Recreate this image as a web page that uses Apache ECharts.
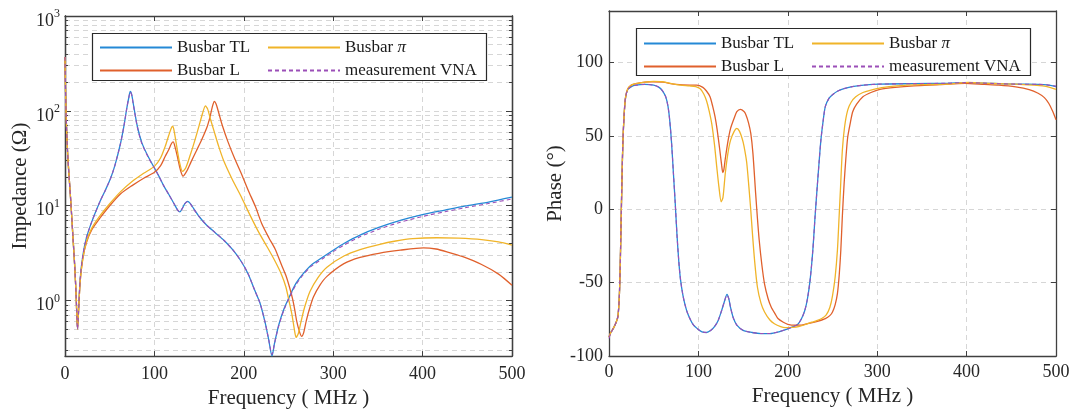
<!DOCTYPE html>
<html>
<head>
<meta charset="utf-8">
<script src="https://cdn.jsdelivr.net/npm/echarts@6/dist/echarts.min.js"></script>
<style>
html,body{margin:0;padding:0;background:#fff;}
#chart{width:1073px;height:414px;}
</style>
</head>
<body>
<div id="chart"></div>
<script>
// ---------- data (frequency MHz, value) ----------
const seriesNames = ['Busbar TL', 'Busbar L', 'Busbar π', 'measurement VNA'];
const freqTicks = [0, 100, 200, 300, 400, 500];
const impDecades = [1, 10, 100, 1000];
const phaseTicks = [-100, -50, 0, 50, 100];

// Impedance magnitude (Ohm)
const zTL = [[0,370],[1,110],[3,35],[6.5,11],[9,4.5],[11,2.2],[12.5,1.1],[14,0.5],[15.5,0.9],[17,1.7],[20,3.0],[24,4.6],[30,6.8],[39,11],[45,14.5],[51,19.5],[56,27],[62,45],[66,70],[69,105],[71.5,140],[73,160],[74.5,150],[77,110],[81,68],[86,46],[93,33],[100,25],[105,20.5],[110,16.5],[116,13.2],[122,10.5],[126,9.0],[128.5,8.6],[131,9.3],[134,10.5],[137,11.1],[140,10.6],[144,9.3],[150,7.7],[158,6.3],[168,5.2],[178,4.3],[188,3.4],[197,2.6],[205,1.9],[212,1.3],[218,0.95],[224,0.58],[228,0.38],[231.5,0.26],[234.5,0.36],[239,0.55],[245,0.82],[251,1.1],[258,1.5],[266,1.9],[275,2.35],[289,2.9],[300,3.4],[312,4.0],[330,4.9],[351,5.9],[375,7.0],[401,8.1],[425,9.0],[447,9.9],[475,11.0],[500,12.3]];
const zL = [[0,370],[1,110],[3,35],[6.5,11],[9,4.5],[11,2.2],[12.5,1.1],[14,0.5],[15.5,0.9],[17,1.6],[20,2.8],[24,4.1],[30,5.6],[39,7.4],[50,10],[62,13.3],[75,16.3],[88,19.5],[100,22.5],[107,26.5],[112,33],[116,39],[119,45],[121,47],[123,42],[126,32],[129,24],[132,20.5],[136,23],[141,29],[147,38],[153,50],[158.5,66],[162,85],[165,112],[167,126],[169,118],[172,95],[176,70],[182,48],[190,31],[198,21],[205,14.5],[213,9.8],[220,6.5],[228,4.6],[235,3.5],[242,2.4],[247,1.85],[251,1.4],[254.5,1.05],[257,0.8],[259,0.62],[262,0.48],[264.6,0.42],[267,0.46],[270,0.62],[274,0.85],[278,1.1],[285,1.45],[293,1.8],[312,2.45],[330,2.85],[351,3.15],[375,3.4],[401,3.6],[415,3.5],[428,3.25],[445,2.9],[466,2.4],[485,1.9],[500,1.45]];
const zPi = [[0,370],[1,110],[3,35],[6.5,11],[9,4.5],[11,2.2],[12.5,1.1],[14,0.5],[15.5,0.9],[17,1.6],[20,2.8],[24,4.2],[30,5.8],[39,7.8],[50,10.5],[62,14],[75,18],[88,22],[100,26],[107,32],[112,42],[116,55],[119,66],[120.5,69],[122,62],[125,42],[128,29],[131.5,23],[135,25],[140,34],[145,48],[150,70],[154,95],[157,113],[159.5,105],[163,80],[167,60],[172,42],[178,29],[187,19],[197,12.5],[206,8.3],[216,5.4],[226,3.7],[235,2.6],[242,1.9],[247,1.4],[251,0.95],[254,0.7],[256.5,0.5],[258.5,0.41],[261,0.45],[264,0.6],[268,0.85],[274,1.25],[283,1.75],[293,2.25],[312,2.95],[330,3.45],[351,3.9],[370,4.25],[389,4.5],[416,4.6],[440,4.55],[466,4.4],[485,4.15],[500,3.85]];
const zVNA = [[0,370],[1,110],[3,35],[6.5,11],[9,4.5],[11,2.2],[12.5,1.1],[14,0.5],[15.5,0.9],[17,1.7],[20,3.0],[24,4.6],[30,6.8],[39,11],[45,14.5],[51,19.5],[56,27],[62,45],[66,70],[69,105],[71.5,140],[73,158],[74.5,148],[77,108],[81,67],[86,45],[93,32.5],[100,25],[105,20.5],[110,16.5],[116,13.2],[122,10.5],[126,9.0],[128.5,8.6],[131,9.3],[134,10.5],[137,11.0],[140,10.5],[144,9.2],[150,7.7],[158,6.3],[168,5.2],[178,4.3],[188,3.4],[197,2.6],[205,1.9],[212,1.3],[218,0.95],[224,0.58],[228,0.38],[231.5,0.27],[234.5,0.36],[239,0.54],[245,0.8],[251,1.07],[258,1.45],[266,1.85],[275,2.28],[289,2.8],[300,3.28],[312,3.85],[330,4.7],[351,5.65],[375,6.7],[401,7.75],[425,8.65],[447,9.5],[475,10.6],[500,11.8]];

// Phase (degree)
const pTL = [[0,-87],[2,-84],[5,-81],[8,-77],[10,-73],[11.5,-60],[12.5,-40],[13.5,-10],[14.5,20],[15.5,45],[17,65],[18.5,76],[21,81.5],[25,83.5],[30,84.5],[40,85],[50,84.5],[56,83],[60,80.5],[63.5,76.5],[66,70],[68,60],[70,45],[72,25],[74,5],[76,-17],[78,-35],[80,-48],[82.5,-58],[85,-65],[88,-71],[94,-78.5],[100,-82],[104,-83.5],[109,-84],[114,-82.5],[118,-80],[122,-76],[126,-69],[129,-63],[132,-58],[134,-61],[136,-67],[139,-74],[143,-79],[150,-82.5],[160,-84],[170,-84.7],[180,-84.7],[190,-83.5],[200,-81.5],[206,-80],[211,-78.5],[215,-75],[219,-69],[222,-61],[225,-48],[228,-28],[230.5,-5],[233,16],[235,32],[237,47],[239.5,60],[242,70],[246,75.5],[250,78],[256,80.5],[262,82],[272,83.5],[285,84.5],[303,85.2],[340,85.5],[379,85.8],[398,86.2],[430,85.6],[455,85.2],[480,85],[490,84.7],[500,83.5]];
const pL = [[0,-87],[2,-84],[5,-81],[8,-77],[10,-73],[11.5,-60],[12.5,-40],[13.5,-10],[14.5,20],[15.5,45],[17,65],[18.5,76],[21,82],[25,84.5],[30,85.5],[40,86.5],[48,86.8],[60,86.5],[75,85],[90,84.5],[98,84.5],[105,83],[109,80.5],[113,76.6],[116,70],[118.6,63],[121,54],[124,40],[126,30],[127.3,25],[128.5,27],[130,34],[133,46],[136,55],[140,62],[143,66.4],[147,68],[151,66.5],[153,64.5],[156,59],[158.6,51.6],[161,38],[164,11],[166,-6],[168,-21],[171,-38],[174,-51],[178,-61],[181.4,-66.6],[186,-71.5],[189,-74.5],[195,-77],[200,-78.4],[208,-79],[215,-79],[222,-78],[231,-76.8],[242,-74.5],[247,-72.5],[250,-70],[253,-65],[255.5,-57.5],[257.5,-45],[259.3,-28],[261,-5],[263,17.5],[265,35],[267,49],[270,59],[272.6,66.4],[277,71.5],[284,76.6],[293,79.5],[303,81.6],[320,83],[341,84],[370,84.8],[398,85.7],[420,85],[436,84.5],[455,83.3],[470,81.5],[480,79],[487,76],[492,72],[496,67],[500,61]];
const pPi = [[0,-87],[2,-84],[5,-81],[8,-77],[10,-73],[11.5,-60],[12.5,-40],[13.5,-10],[14.5,20],[15.5,45],[17,65],[18.5,76],[21,82],[25,84.5],[30,85.5],[40,86.5],[50,87],[60,86.8],[70,85.5],[80,84.5],[90,84],[97,83.5],[102,82],[106,78.5],[109,74],[112,67],[115,58],[118,44],[120.5,29],[123,15],[125.5,5],[127.5,8],[130,24],[133,38],[136,47],[140,53],[143,55],[146,53],[149,48],[151,43],[154,32],[156.5,15],[158.5,0],[160.5,-17],[163,-36],[166,-53],[170,-64],[174,-70],[180,-75.5],[185,-78],[192,-80],[197,-80.7],[205,-80.5],[212,-80],[220,-78.5],[227,-77],[233,-75.8],[238,-74.5],[243,-72],[247,-67],[250,-59],[253,-46],[255.5,-28],[257.4,-5],[259,15],[261,40],[263.5,56],[267,67.5],[271,73],[276,76.6],[284,79.5],[292,81],[305,82.8],[322,84],[350,84.8],[379,85.2],[402,86.4],[430,85.6],[455,85.2],[475,84.5],[485,84],[493,83],[500,81.6]];
const pVNA = [[0,-88],[2,-84.5],[5,-81],[8,-77],[10,-73],[11.5,-60],[12.5,-40],[13.5,-10],[14.5,20],[15.5,45],[17,65],[18.5,76],[21,81.5],[25,83.5],[30,84.5],[40,85],[50,84.5],[56,83],[60,80.5],[63.5,76.5],[66,70],[68,60],[70,45],[72,25],[74,5],[76,-17],[78,-35],[80,-48],[82.5,-58],[85,-65],[88,-71],[94,-78.5],[100,-82],[104,-83.5],[109,-84],[114,-82.5],[118,-80],[122,-76],[126,-69],[129,-63],[132,-58.5],[134,-61],[136,-67],[139,-74],[143,-79],[150,-82.5],[160,-84],[170,-84.7],[180,-84.7],[190,-83.5],[200,-81.5],[206,-80],[211,-78.5],[215,-75],[219,-69],[222,-61],[225,-48],[228,-28],[230.5,-5],[233,16],[235,32],[237,47],[239.5,60],[242,70],[246,75.5],[250,78],[256,80.5],[262,82],[272,83.5],[285,84.5],[303,85.2],[340,85.5],[379,85.8],[398,86.2],[430,85.6],[455,85.2],[480,85],[490,84.7],[500,83.8]];

// ---------- styling ----------
const FONT = 'Liberation Serif';
const C_TL = '#2589d6', C_L = '#e0602c', C_PI = '#f0b429', C_VNA = '#9b4fb8';
const FRAME = '#404040';
const GRIDC = '#d6d6d6';

const zMin = 0.26, zMax = 1000;
const lg = v => Math.log10(v);
const majorLog = impDecades.map(lg);
const minorLog = [];
for (let e = -1; e <= 2; e++) for (let k = 2; k <= 9; k++) {
  const v = k * Math.pow(10, e);
  if (v >= zMin && v <= zMax) minorLog.push(lg(v));
}
const toLog = arr => arr.map(p => [p[0], lg(p[1])]);

function xAx(grid, pos, labels, margin, nameGap) {
  return {
    type: 'value', gridIndex: grid, position: pos, min: 0, max: 500, interval: 100,
    axisLine: { show: true, onZero: false, lineStyle: { color: FRAME, width: 1.3 } },
    axisTick: { show: true, inside: true, length: 5, lineStyle: { color: FRAME } },
    axisLabel: { show: labels, fontFamily: FONT, fontSize: 18, color: '#262626', margin: margin },
    splitLine: { show: labels, lineStyle: { color: GRIDC, type: [5, 4], width: 1 } },
    name: labels ? 'Frequency ( MHz )' : '', nameLocation: 'middle', nameGap: nameGap,
    nameTextStyle: { fontFamily: FONT, fontSize: 21, color: '#262626' }
  };
}

const yImp = function (pos, ticks, len, labels, split) {
  return {
    type: 'value', gridIndex: 0, position: pos, min: lg(zMin), max: lg(zMax),
    axisLine: { show: true, onZero: false, lineStyle: { color: FRAME, width: 1.3 } },
    axisTick: { show: true, inside: true, length: len, customValues: ticks, lineStyle: { color: FRAME } },
    axisLabel: labels ? {
      show: true, customValues: majorLog, margin: 5,
      formatter: v => '{b|10}{s|' + Math.round(v) + '}',
      rich: {
        b: { fontFamily: FONT, fontSize: 18, color: '#262626', padding: [10, 0, 0, 0] },
        s: { fontFamily: FONT, fontSize: 12, color: '#262626', padding: [0, 0, 4, 0] }
      }
    } : { show: false },
    splitLine: { show: split, lineStyle: { color: GRIDC, type: [5, 4], width: 1 } },
    name: labels ? 'Impedance (Ω)' : '', nameLocation: 'middle', nameGap: 34,
    nameTextStyle: { fontFamily: FONT, fontSize: 21, color: '#262626' }
  };
};

const yPh = function (pos, labels) {
  return {
    type: 'value', gridIndex: 1, position: pos, min: -100, max: 135,
    axisLine: { show: true, onZero: false, lineStyle: { color: FRAME, width: 1.3 } },
    axisTick: { show: true, inside: true, length: 5, customValues: phaseTicks, lineStyle: { color: FRAME } },
    axisLabel: labels ? { show: true, customValues: phaseTicks, fontFamily: FONT, fontSize: 18, color: '#262626', margin: 6 } : { show: false },
    splitLine: { show: labels, lineStyle: { color: GRIDC, type: [5, 4], width: 1 } },
    name: labels ? 'Phase (°)' : '', nameLocation: 'middle', nameGap: 43,
    nameTextStyle: { fontFamily: FONT, fontSize: 21, color: '#262626' }
  };
};

function line(name, data, color, xi, yi, dashed) {
  return {
    name: name, type: 'line', xAxisIndex: xi, yAxisIndex: yi, data: data,
    symbol: 'none', smooth: 0.25, animation: false, silent: true,
    lineStyle: { color: color, width: dashed ? 1.1 : 1.3, type: dashed ? [4, 3] : 'solid' },
    itemStyle: { color: color }
  };
}

function legend(left, top, data) {
  return {
    orient: 'vertical', left: left, top: top, data: data, z: 20,
    itemWidth: 72, itemHeight: 14, itemGap: 6, padding: 0, selectedMode: false,
    itemStyle: { opacity: 0 },
    formatter: n => n === 'Busbar π' ? 'Busbar {i|π}' : n,
    textStyle: {
      fontFamily: FONT, fontSize: 17, color: '#1a1a1a',
      rich: { i: { fontFamily: FONT, fontSize: 17, fontStyle: 'italic', color: '#1a1a1a' } }
    }
  };
}

const option = {
  animation: false,
  textStyle: { fontFamily: FONT },
  grid: [
    { left: 65, top: 16, width: 447, height: 344 },
    { left: 609, top: 11, width: 447, height: 345 }
  ],
  xAxis: [
    xAx(0, 'bottom', true, 9, 27),
    xAx(0, 'top', false, 9, 0),
    xAx(1, 'bottom', true, 7, 29),
    xAx(1, 'top', false, 7, 0)
  ],
  yAxis: [
    yImp('left', majorLog, 6, true, true),
    yImp('left', minorLog, 3, false, true),
    yImp('right', majorLog, 6, false, false),
    yImp('right', minorLog, 3, false, false),
    yPh('left', true),
    yPh('right', false)
  ],
  legend: [
    legend(99, 39, ['Busbar TL', 'Busbar L']),
    legend(267, 39, ['Busbar π', 'measurement VNA']),
    legend(643, 35, ['Busbar TL', 'Busbar L']),
    legend(811, 35, ['Busbar π', 'measurement VNA'])
  ],
  graphic: [
    { type: 'rect', z: 15, shape: { x: 92.5, y: 33.5, width: 394, height: 47 }, style: { fill: '#fff', stroke: '#2a2a2a', lineWidth: 1.2 } },
    { type: 'rect', z: 15, shape: { x: 636.5, y: 28.5, width: 394, height: 47 }, style: { fill: '#fff', stroke: '#2a2a2a', lineWidth: 1.2 } }
  ],
  series: [
    line(seriesNames[0], toLog(zTL), C_TL, 0, 0, false),
    line(seriesNames[1], toLog(zL), C_L, 0, 0, false),
    line(seriesNames[2], toLog(zPi), C_PI, 0, 0, false),
    line(seriesNames[3], toLog(zVNA), C_VNA, 0, 0, true),
    line(seriesNames[0], pTL, C_TL, 2, 4, false),
    line(seriesNames[1], pL, C_L, 2, 4, false),
    line(seriesNames[2], pPi, C_PI, 2, 4, false),
    line(seriesNames[3], pVNA, C_VNA, 2, 4, true)
  ]
};

const chart = echarts.init(document.getElementById('chart'), null, { renderer: 'canvas' });
chart.setOption(option);
</script>
</body>
</html>
